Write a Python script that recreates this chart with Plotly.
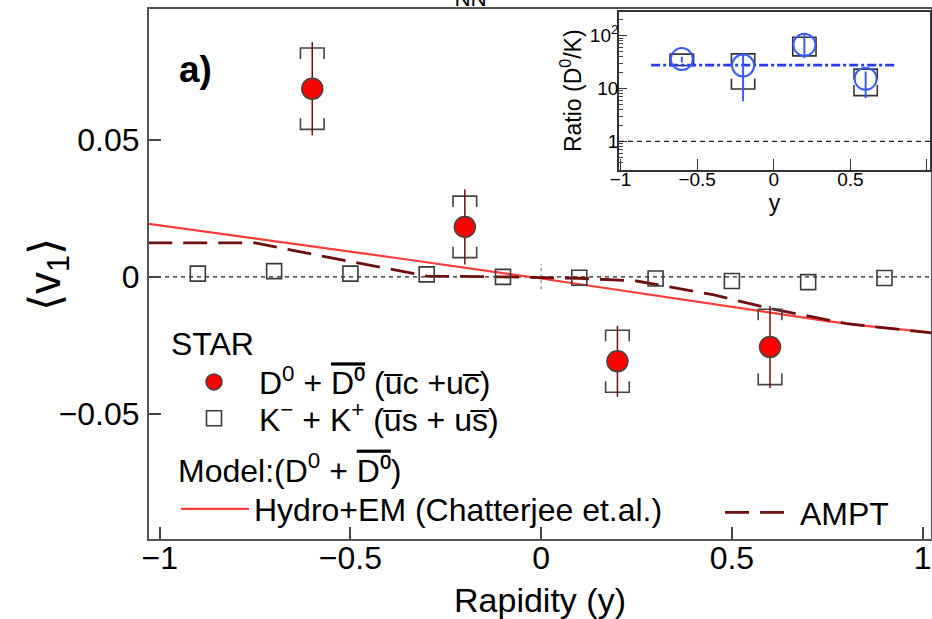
import plotly.graph_objects as go

# ---------------- main panel data ----------------
d0_rap = [-0.6, -0.2, 0.2, 0.6]
d0_v1 = [0.0685, 0.0182, -0.0307, -0.0255]
d0_stat = [0.0170, 0.0137, 0.0129, 0.0149]
d0_sys = [0.0148, 0.0112, 0.0113, 0.0137]

k_rap = [-0.9, -0.7, -0.5, -0.3, -0.1, 0.1, 0.3, 0.5, 0.7, 0.9]
k_v1 = [0.0012, 0.0021, 0.0012, 0.0009, 0.0, -0.0003, -0.0006, -0.0015, -0.0019, -0.0004]

hydro_rap = [-1.03, -0.6, -0.37, 0.0, 0.4, 0.6, 0.75, 0.85, 1.03]
hydro_v1 = [0.0193, 0.0112, 0.0067, -0.0006, -0.0088, -0.0128, -0.0161, -0.0178, -0.0203]

ampt_rap = [-1.03, -0.75, -0.55, -0.3, -0.1, 0.1, 0.25, 0.45, 0.6, 0.8, 1.03]
ampt_v1 = [0.0124, 0.0124, 0.0069, 0.0003, 0.0, -0.0005, -0.0015, -0.0065, -0.0115, -0.0170, -0.0205]

x_ticks = [-1, -0.5, 0, 0.5, 1]
x_ticktext = ["\u22121", "\u22120.5", "0", "0.5", "1"]
y_ticks = [-0.05, 0, 0.05]
y_ticktext = ["\u22120.05", "0", "0.05"]

# ---------------- inset data ----------------
ratio_rap = [-0.6, -0.2, 0.2, 0.6]
ratio = [35.9, 27.2, 66.8, 15.2]
ratio_err_hi = [40.0, 45.0, 103.0, 20.9]
ratio_err_lo = [31.0, 5.7, 37.4, 6.6]
ratio_sys_hi = [44.6, 45.2, 93.0, 23.2]
ratio_sys_lo = [27.2, 9.75, 41.4, 7.3]
ratio_fit = 27.6
ratio_fit_span = [-0.8, 0.8]

inset_yticks = [1, 10, 100]
inset_yticktext = ["1", "10", "10<sup>2</sup>"]
inset_minor_ticks = [m * 10 ** e for e in (-1, 0, 1, 2) for m in range(2, 10)]

FONT = "Liberation Sans, Arial, Helvetica, sans-serif"
DBAR = '<span style="text-decoration:overline">D\u2070</span>'
BAR = "\u0305"


def brackets(xs, lo, hi, half_w, tick, log=False):
    bx, by = [], []
    for x, l, h in zip(xs, lo, hi):
        if log:
            t_top, t_bot = h / 10 ** tick, l * 10 ** tick
        else:
            t_top, t_bot = h - tick, l + tick
        bx += [x - half_w, x - half_w, x + half_w, x + half_w, None,
               x - half_w, x - half_w, x + half_w, x + half_w, None]
        by += [t_top, h, h, t_top, None, t_bot, l, l, t_bot, None]
    return bx, by


fig = go.Figure()

# model curves
fig.add_trace(go.Scatter(x=hydro_rap, y=hydro_v1, mode="lines",
                         line=dict(color="#ff3c3c", width=2.2),
                         name="Hydro+EM (Chatterjee et.al.)", legend="legend2"))
fig.add_trace(go.Scatter(x=ampt_rap, y=ampt_v1, mode="lines",
                         line=dict(color="#6e1010", width=2.8, dash="24px,11px"),
                         name="AMPT", legend="legend4"))

# kaons
fig.add_trace(go.Scatter(x=k_rap, y=k_v1, mode="markers",
                         marker=dict(symbol="square-open", size=15, color="#3a3a3a",
                                     line=dict(width=1.6, color="#3a3a3a")),
                         name="K<sup>\u2212</sup> + K<sup>+</sup> (u" + BAR + "s + us" + BAR + ")",
                         legend="legend3"))

# D0 systematic brackets
d0_lo = [v - s for v, s in zip(d0_v1, d0_sys)]
d0_hi = [v + s for v, s in zip(d0_v1, d0_sys)]
bx, by = brackets(d0_rap, d0_lo, d0_hi, 0.031, 0.004)
fig.add_trace(go.Scatter(x=bx, y=by, mode="lines", line=dict(color="#444", width=1.6),
                         showlegend=False, hoverinfo="skip"))

# D0 points
fig.add_trace(go.Scatter(x=d0_rap, y=d0_v1, mode="markers",
                         error_y=dict(type="data", array=d0_stat, color="#6e1010",
                                      thickness=1.5, width=0),
                         marker=dict(symbol="circle", size=21, color="#ff0000",
                                     line=dict(width=1.5, color="#444")),
                         name="D<sup>0</sup> + " + DBAR + " (u" + BAR + "c +uc" + BAR + ")",
                         legend="legend"))

# ---------------- inset traces ----------------
ibx, iby = brackets(ratio_rap, ratio_sys_lo, ratio_sys_hi, 0.076, 0.2, log=True)
fig.add_trace(go.Scatter(x=ibx, y=iby, mode="lines", line=dict(color="#333", width=1.6),
                         xaxis="x2", yaxis="y2", showlegend=False, hoverinfo="skip"))
fig.add_trace(go.Scatter(x=ratio_fit_span, y=[ratio_fit, ratio_fit], mode="lines",
                         line=dict(color="#2a3cf0", width=2.6, dash="dashdot"),
                         xaxis="x2", yaxis="y2", showlegend=False))
fig.add_trace(go.Scatter(x=ratio_rap, y=ratio, mode="markers",
                         error_y=dict(type="data",
                                      array=[h - v for h, v in zip(ratio_err_hi, ratio)],
                                      arrayminus=[v - l for v, l in zip(ratio, ratio_err_lo)],
                                      color="#3b5bff", thickness=2, width=0),
                         marker=dict(symbol="circle-open", size=22, color="#3b5bff",
                                     line=dict(width=2, color="#3b5bff")),
                         xaxis="x2", yaxis="y2", showlegend=False))

# reference lines
fig.add_shape(type="line", xref="x domain", yref="y", x0=0, x1=1, y0=0, y1=0,
              line=dict(color="#222", width=1.2, dash="4px,4px"), layer="below")
fig.add_shape(type="line", xref="x", yref="y", x0=0, x1=0, y0=-0.0045, y1=0.0046,
              line=dict(color="#666", width=1, dash="3px,3px"), layer="below")
fig.add_shape(type="line", xref="x2 domain", yref="y2", x0=0, x1=1, y0=1, y1=1,
              line=dict(color="#222", width=1.3, dash="5px,4px"))

W, H = 932, 619
L, R, T, B = 149, 1, 9, 80
pw, ph = W - L - R, H - T - B


def px_x(p):
    return (p - L) / pw


def px_y(p):
    return (H - B - p) / ph


fig.update_layout(
    width=W, height=H,
    margin=dict(l=L, r=R, t=T, b=B, autoexpand=False),
    paper_bgcolor="white", plot_bgcolor="white",
    font=dict(family=FONT, size=32, color="black"),
    xaxis=dict(range=[-1.028, 1.022], tickvals=x_ticks, ticktext=x_ticktext,
               ticks="inside", ticklen=12, tickwidth=1.5, tickcolor="#444",
               showline=True, linecolor="#555", linewidth=2, mirror=True,
               showgrid=False, zeroline=False, automargin=False,
               ticklabelstandoff=-10,
               tickfont=dict(size=32),
               title=dict(text="Rapidity (y)", font=dict(size=34), standoff=18)),
    yaxis=dict(range=[-0.0954, 0.0975], tickvals=y_ticks, ticktext=y_ticktext,
               ticks="inside", ticklen=12, tickwidth=1.5, tickcolor="#444",
               showline=True, linecolor="#555", linewidth=2, mirror=True,
               showgrid=False, zeroline=False, ticklabelstandoff=1, automargin=False,
               tickfont=dict(size=32)),
    xaxis2=dict(domain=[px_x(619), px_x(930)], anchor="y2", range=[-1.01, 1.02],
                tickvals=x_ticks, ticktext=x_ticktext,
                ticks="inside", ticklen=11, tickwidth=1.3, tickcolor="#333",
                showline=True, linecolor="#333", linewidth=1.6, mirror=True,
                showgrid=False, zeroline=False, tickfont=dict(size=19), automargin=False,
                ticklabelstandoff=-8,
                title=dict(text="y", font=dict(size=23), standoff=2)),
    yaxis2=dict(domain=[px_y(169.5), px_y(12)], anchor="x2", type="log",
                range=[-0.534, 2.447], tickvals=inset_yticks, ticktext=inset_yticktext,
                ticks="inside", ticklen=8, tickwidth=1.3, tickcolor="#333",
                minor=dict(tickvals=inset_minor_ticks, ticks="inside", ticklen=4,
                           tickcolor="#444", tickwidth=1),
                showline=True, linecolor="#333", linewidth=1.6, mirror=True,
                showgrid=False, zeroline=False, tickfont=dict(size=19),
                ticklabelstandoff=-5, automargin=False,
                title=dict(text="Ratio (D<sup>0</sup>/K)", font=dict(size=23), standoff=2)),
    legend=dict(x=px_x(169), y=px_y(313), xanchor="left", yanchor="top",
                bgcolor="rgba(0,0,0,0)", itemwidth=80,
                title=dict(text="STAR", font=dict(size=32)),
                font=dict(size=32)),
    legend3=dict(x=px_x(169), y=px_y(391), xanchor="left", yanchor="top",
                 bgcolor="rgba(0,0,0,0)", itemwidth=80, font=dict(size=32)),
    legend2=dict(x=px_x(176), y=px_y(440), xanchor="left", yanchor="top",
                 bgcolor="rgba(0,0,0,0)", itemwidth=68,
                 title=dict(text="Model:(D<sup>0</sup> + " + DBAR + ")",
                            font=dict(size=32)),
                 font=dict(size=32)),
    legend4=dict(x=px_x(720), y=px_y(485), xanchor="left", yanchor="top",
                 bgcolor="rgba(0,0,0,0)", itemwidth=70, font=dict(size=32)),
    showlegend=True,
)

fig.add_annotation(text="\u27e8v<sub>1</sub>\u27e9", xref="paper", yref="paper",
                   x=px_x(48), y=px_y(275), xanchor="center", yanchor="middle",
                   textangle=-90, showarrow=False, font=dict(size=44, color="black"))
fig.add_annotation(text="<b>a)</b>", xref="paper", yref="paper",
                   x=px_x(177), y=px_y(70), xanchor="left", yanchor="middle",
                   showarrow=False, font=dict(size=37, color="black"))
fig.add_annotation(text="Au+Au \u221as<sub>NN</sub> = 200 GeV", xref="paper", yref="paper",
                   x=px_x(313), y=px_y(13), xanchor="left", yanchor="bottom",
                   showarrow=False, font=dict(size=32, color="black"))

fig.write_html("out.html", post_script="document.body.style.margin='0';",
               config={"displayModeBar": False})
